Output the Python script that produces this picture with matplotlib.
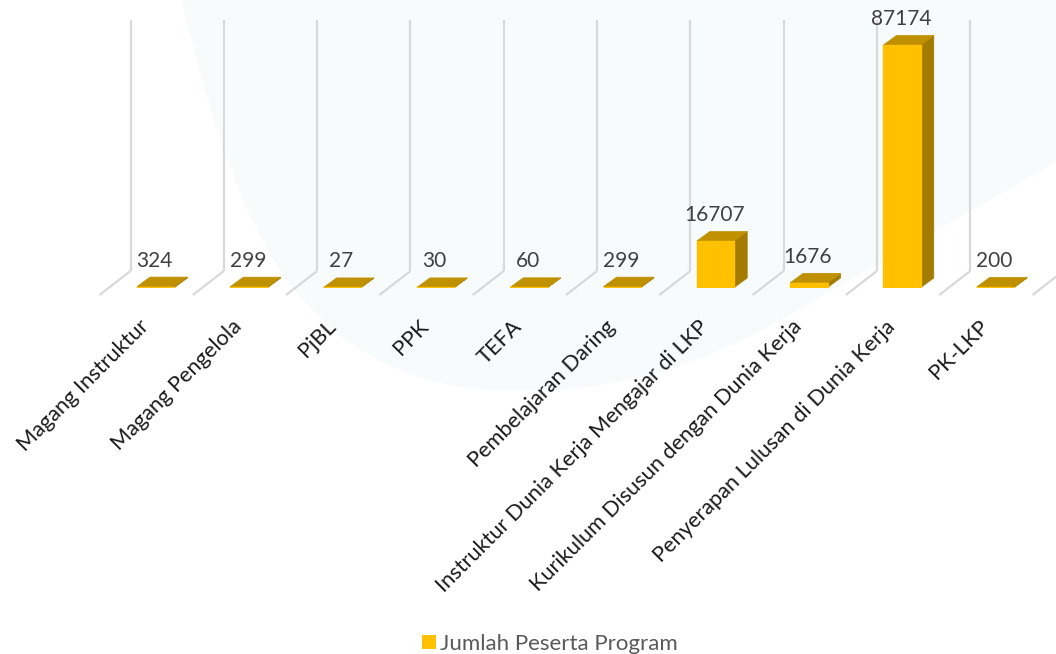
import matplotlib
matplotlib.use("Agg")
import matplotlib.pyplot as plt
from matplotlib.patches import Polygon, PathPatch, Patch
from matplotlib.path import Path
from matplotlib.transforms import ScaledTranslation

plt.rcParams['font.family'] = ['Lato', 'DejaVu Sans']

categories = ["Magang Instruktur", "Magang Pengelola", "PjBL", "PPK", "TEFA",
              "Pembelajaran Daring", "Instruktur Dunia Kerja Mengajar di LKP",
              "Kurikulum Disusun dengan Dunia Kerja",
              "Penyerapan Lulusan di Dunia Kerja", "PK-LKP"]
values = [324, 299, 27, 30, 60, 299, 16707, 1676, 87174, 200]
series_name = "Jumlah Peserta Program"

W, H = 1056, 654
FRONT, TOP, SIDE = "#FFC000", "#BF9000", "#A37B00"
GRID = "#D9D9D9"

fig = plt.figure(figsize=(W / 100, H / 100), dpi=100, facecolor="white")

# soft background shape (pixel coordinates of the page)
bg = fig.add_axes([0, 0, 1, 1], zorder=0)
bg.set_xlim(0, W)
bg.set_ylim(H, 0)
bg.axis("off")
verts = [(180, -5),
         (205, 95), (225, 165), (258, 232),
         (295, 305), (345, 350), (410, 374),
         (460, 392), (530, 396), (600, 385),
         (670, 374), (730, 348), (780, 320),
         (1056, 162), (1056, -5), (180, -5)]
codes = [Path.MOVETO] + [Path.CURVE4] * 12 + [Path.LINETO, Path.LINETO, Path.CLOSEPOLY]
bg.add_patch(PathPatch(Path(verts, codes), facecolor="#F7FBFC", edgecolor="none"))

# plot area: bottom edge is the front baseline of the bars
BASE_PX = 287.5
SPACING = 93.3
X0 = 155.7
ax = fig.add_axes([0, 1 - BASE_PX / H, 1, BASE_PX / H], zorder=1)
ax.patch.set_alpha(0)
ax.set_xlim(-X0 / SPACING, (W - X0) / SPACING)
UNIT_PER_PX = 87174 / 242.5
ax.set_ylim(0, BASE_PX * UNIT_PER_PX)
for s in ax.spines.values():
    s.set_visible(False)
ax.set_yticks([])

px_x = 1 / SPACING
px_y = UNIT_PER_PX
half = 18.7 * px_x
dx, dy = 13 * px_x, 9.5 * px_y

# wall and floor lines
for k in range(len(categories) + 1):
    xw = k - 0.5 + 0.23
    ax.plot([xw, xw], [16.5 * px_y, 268 * px_y], color=GRID, lw=1.6,
            solid_capstyle="butt", zorder=1)
    ax.plot([xw, xw - 31 * px_x], [16.5 * px_y, -7.5 * px_y], color=GRID, lw=1.6,
            solid_capstyle="butt", clip_on=False, zorder=1)

# 3-D looking bars
for i, v in enumerate(values):
    l, r = i - half, i + half
    ax.add_patch(Polygon([(r, 0), (r + dx, dy), (r + dx, v + dy), (r, v)],
                         facecolor=SIDE, edgecolor=SIDE, lw=0.5, zorder=3))
    ax.add_patch(Polygon([(l, v), (r, v), (r + dx, v + dy), (l + dx, v + dy)],
                         facecolor=TOP, edgecolor=TOP, lw=0.5, zorder=3))
    ax.add_patch(Polygon([(l, 0), (r, 0), (r, v), (l, v)],
                         facecolor=FRONT, edgecolor=FRONT, lw=1.0, zorder=4))
    ax.annotate(str(v), (i, v + dy), xytext=(-1, 16.5), textcoords="offset pixels",
                ha="center", va="center", fontsize=15, color="#404040", zorder=5,
                annotation_clip=False)

# category labels
ax.set_xticks(range(len(categories)))
ax.set_xticklabels(categories)
ax.tick_params(axis="x", length=0, pad=0)
shift = ScaledTranslation(-17 / 100, -29 / 100, fig.dpi_scale_trans)
for lab in ax.get_xticklabels():
    lab.set(rotation=45, ha="right", va="top", rotation_mode="anchor",
            fontsize=15.7, color="#1A1A1A")
    lab.set_transform(lab.get_transform() + shift)

handle = Patch(facecolor=FRONT, edgecolor="none", label=series_name)
fig.legend(handles=[handle], loc="center", bbox_to_anchor=(550 / W, 1 - 644 / H),
           frameon=False, fontsize=16, labelcolor="#595959",
           handlelength=0.63, handleheight=0.63, handletextpad=0.2,
           borderpad=0, borderaxespad=0)

fig.savefig("out.png", dpi=100, facecolor="white")
